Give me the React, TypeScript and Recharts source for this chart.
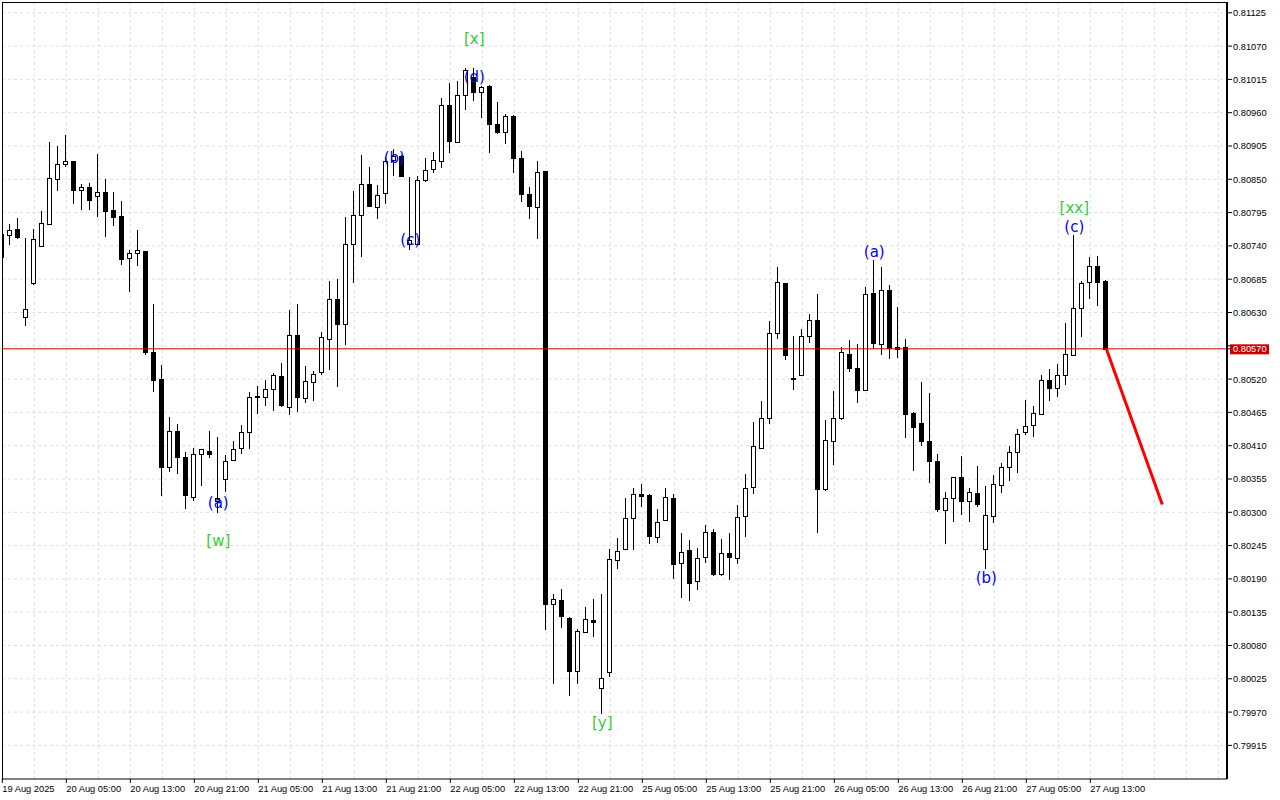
import React from 'react';
import { ComposedChart, Bar, Line, Scatter, XAxis, YAxis, CartesianGrid, ReferenceLine } from 'recharts';

// ---- hourly candles (H1), index 0 = 19 Aug 2025 21:00 ----
const opens = [
  0.80722, 0.80758, 0.80768, 0.80622, 0.80678, 0.80740, 0.80776, 0.80850, 0.80876, 0.80880,
  0.80832, 0.80838, 0.80823, 0.80829, 0.80800, 0.80789, 0.80720, 0.80728, 0.80731, 0.80564,
  0.80520, 0.80375, 0.80434, 0.80391, 0.80326, 0.80397, 0.80401, 0.80319, 0.80355, 0.80386,
  0.80406, 0.80433, 0.80492, 0.80490, 0.80503, 0.80525, 0.80474, 0.80592, 0.80489, 0.80516,
  0.80531, 0.80587, 0.80652, 0.80611, 0.80743, 0.80791, 0.80843, 0.80805, 0.80827, 0.80882,
  0.80889, 0.80743, 0.80743, 0.80849, 0.80867, 0.80880, 0.80973, 0.80911, 0.80989, 0.81019,
  0.80994, 0.81004, 0.80942, 0.80928, 0.80955, 0.80885, 0.80826, 0.80804, 0.80863, 0.80149,
  0.80155, 0.80126, 0.80038, 0.80103, 0.80122, 0.80009, 0.80037, 0.80221, 0.80239, 0.80290,
  0.80330, 0.80328, 0.80260, 0.80287, 0.80323, 0.80216, 0.80237, 0.80186, 0.80226, 0.80267,
  0.80198, 0.80232, 0.80224, 0.80294, 0.80341, 0.80407, 0.80455, 0.80596, 0.80678, 0.80522,
  0.80526, 0.80591, 0.80617, 0.80338, 0.80418, 0.80455, 0.80561, 0.80538, 0.80502, 0.80662,
  0.80578, 0.80667, 0.80573, 0.80573, 0.80464, 0.80447, 0.80417, 0.80384, 0.80304, 0.80323,
  0.80358, 0.80318, 0.80332, 0.80240, 0.80294, 0.80345, 0.80374, 0.80399, 0.80432, 0.80444,
  0.80462, 0.80518, 0.80505, 0.80526, 0.80559, 0.80638, 0.80681, 0.80707, 0.80682,
];
const highs = [
  0.80773, 0.80776, 0.80786, 0.80753, 0.80768, 0.80798, 0.80911, 0.80905, 0.80923, 0.80881,
  0.80842, 0.80844, 0.80892, 0.80850, 0.80829, 0.80814, 0.80733, 0.80766, 0.80732, 0.80644,
  0.80544, 0.80457, 0.80445, 0.80400, 0.80407, 0.80405, 0.80435, 0.80424, 0.80394, 0.80417,
  0.80444, 0.80498, 0.80509, 0.80519, 0.80530, 0.80546, 0.80634, 0.80644, 0.80542, 0.80533,
  0.80597, 0.80682, 0.80685, 0.80787, 0.80831, 0.80890, 0.80871, 0.80840, 0.80887, 0.80900,
  0.80890, 0.80853, 0.80856, 0.80885, 0.80895, 0.80985, 0.81009, 0.81012, 0.81034, 0.81034,
  0.81004, 0.81006, 0.80978, 0.80958, 0.80956, 0.80897, 0.80838, 0.80880, 0.80864, 0.80165,
  0.80173, 0.80127, 0.80107, 0.80144, 0.80157, 0.80165, 0.80239, 0.80258, 0.80323, 0.80340,
  0.80346, 0.80330, 0.80305, 0.80340, 0.80330, 0.80265, 0.80254, 0.80241, 0.80279, 0.80272,
  0.80256, 0.80265, 0.80312, 0.80363, 0.80449, 0.80484, 0.80616, 0.80705, 0.80679, 0.80591,
  0.80603, 0.80628, 0.80661, 0.80452, 0.80500, 0.80573, 0.80585, 0.80578, 0.80672, 0.80717,
  0.80705, 0.80675, 0.80639, 0.80587, 0.80465, 0.80515, 0.80497, 0.80396, 0.80333, 0.80358,
  0.80393, 0.80340, 0.80376, 0.80343, 0.80362, 0.80381, 0.80409, 0.80438, 0.80485, 0.80476,
  0.80527, 0.80537, 0.80545, 0.80613, 0.80758, 0.80682, 0.80721, 0.80723, 0.80684,
];
const lows = [
  0.80713, 0.80741, 0.80751, 0.80607, 0.80675, 0.80739, 0.80775, 0.80830, 0.80871, 0.80809,
  0.80800, 0.80800, 0.80788, 0.80755, 0.80773, 0.80709, 0.80664, 0.80706, 0.80559, 0.80498,
  0.80327, 0.80367, 0.80363, 0.80305, 0.80318, 0.80344, 0.80389, 0.80299, 0.80334, 0.80385,
  0.80397, 0.80405, 0.80462, 0.80476, 0.80467, 0.80474, 0.80460, 0.80466, 0.80480, 0.80484,
  0.80526, 0.80535, 0.80507, 0.80576, 0.80679, 0.80721, 0.80805, 0.80785, 0.80810, 0.80856,
  0.80855, 0.80734, 0.80742, 0.80846, 0.80860, 0.80869, 0.80894, 0.80910, 0.80965, 0.80980,
  0.80951, 0.80893, 0.80924, 0.80908, 0.80860, 0.80813, 0.80784, 0.80752, 0.80106, 0.80016,
  0.80109, 0.79997, 0.80017, 0.80100, 0.80094, 0.79967, 0.80028, 0.80206, 0.80238, 0.80238,
  0.80308, 0.80248, 0.80250, 0.80286, 0.80190, 0.80159, 0.80154, 0.80172, 0.80217, 0.80195,
  0.80194, 0.80188, 0.80215, 0.80259, 0.80330, 0.80406, 0.80446, 0.80587, 0.80552, 0.80502,
  0.80525, 0.80580, 0.80266, 0.80335, 0.80378, 0.80453, 0.80532, 0.80481, 0.80501, 0.80569,
  0.80560, 0.80554, 0.80555, 0.80422, 0.80369, 0.80410, 0.80349, 0.80301, 0.80248, 0.80284,
  0.80296, 0.80284, 0.80309, 0.80206, 0.80282, 0.80332, 0.80351, 0.80365, 0.80428, 0.80425,
  0.80461, 0.80484, 0.80490, 0.80511, 0.80558, 0.80590, 0.80653, 0.80640, 0.80570,
];
const closes = [
  0.80760, 0.80766, 0.80754, 0.80635, 0.80751, 0.80777, 0.80852, 0.80876, 0.80881, 0.80833,
  0.80838, 0.80816, 0.80829, 0.80798, 0.80787, 0.80719, 0.80728, 0.80733, 0.80564, 0.80519,
  0.80375, 0.80435, 0.80391, 0.80329, 0.80396, 0.80404, 0.80396, 0.80324, 0.80385, 0.80404,
  0.80433, 0.80490, 0.80490, 0.80503, 0.80527, 0.80478, 0.80592, 0.80490, 0.80517, 0.80528,
  0.80589, 0.80653, 0.80611, 0.80743, 0.80791, 0.80843, 0.80806, 0.80824, 0.80881, 0.80888,
  0.80856, 0.80749, 0.80848, 0.80865, 0.80882, 0.80973, 0.80913, 0.80989, 0.81030, 0.80994,
  0.81003, 0.80942, 0.80928, 0.80955, 0.80885, 0.80825, 0.80806, 0.80862, 0.80149, 0.80157,
  0.80128, 0.80038, 0.80104, 0.80123, 0.80119, 0.80026, 0.80223, 0.80236, 0.80290, 0.80330,
  0.80327, 0.80261, 0.80284, 0.80325, 0.80215, 0.80235, 0.80183, 0.80224, 0.80267, 0.80198,
  0.80232, 0.80226, 0.80293, 0.80340, 0.80409, 0.80455, 0.80596, 0.80680, 0.80559, 0.80520,
  0.80591, 0.80617, 0.80339, 0.80419, 0.80456, 0.80564, 0.80538, 0.80502, 0.80660, 0.80580,
  0.80667, 0.80572, 0.80569, 0.80463, 0.80441, 0.80417, 0.80384, 0.80305, 0.80324, 0.80358,
  0.80318, 0.80333, 0.80314, 0.80295, 0.80346, 0.80374, 0.80399, 0.80430, 0.80442, 0.80464,
  0.80518, 0.80506, 0.80526, 0.80561, 0.80638, 0.80679, 0.80707, 0.80681, 0.80570,
];

// ---- axis ticks ----
const xLabelIdx = [0, 8, 16, 24, 32, 40, 48, 56, 64, 72, 80, 88, 96, 104, 112, 120, 128, 136];
const xLabels = [
  '19 Aug 2025', '20 Aug 05:00', '20 Aug 13:00', '20 Aug 21:00', '21 Aug 05:00', '21 Aug 13:00',
  '21 Aug 21:00', '22 Aug 05:00', '22 Aug 13:00', '22 Aug 21:00', '25 Aug 05:00', '25 Aug 13:00',
  '25 Aug 21:00', '26 Aug 05:00', '26 Aug 13:00', '26 Aug 21:00', '27 Aug 05:00', '27 Aug 13:00',
];
const gridIdx = Array.from({ length: 38 }, (_, k) => (k + 1) * 4);
const yTicks = [
  0.81125, 0.8107, 0.81015, 0.8096, 0.80905, 0.8085, 0.80795, 0.8074, 0.80685, 0.8063, 0.80575,
  0.8052, 0.80465, 0.8041, 0.80355, 0.803, 0.80245, 0.8019, 0.80135, 0.8008, 0.80025, 0.7997, 0.79915,
];
const hiddenTick = 0.80575; // covered by the current-price tag
const lastPrice = 0.8057;

// ---- forecast line ----
const projIdx = [138, 145];
const projPrice = [0.8057, 0.80313];

// ---- wave labels ----
const labelText = ['[w]', '(a)', '(b)', '(c)', '(d)', '[x]', '[y]', '(a)', '(b)', '[xx]', '(c)'];
const labelIdx = [27, 27, 49, 51, 59, 59, 75, 109, 123, 134, 134];
const labelPrice = [0.80252, 0.80315, 0.80885, 0.8075, 0.81019, 0.81082, 0.79952, 0.8073, 0.80191, 0.80803, 0.80771];
const labelDegree = ['major', 'minor', 'minor', 'minor', 'minor', 'major', 'major', 'minor', 'minor', 'major', 'minor'];

const candles = opens.map((o, i) => ({
  idx: i,
  open: o,
  high: highs[i],
  low: lows[i],
  close: closes[i],
  range: [lows[i], highs[i]],
}));
const projection = projIdx.map((x, i) => ({ idx: x, proj: projPrice[i] }));
const waveLabels = labelText.map((t, i) => ({ idx: labelIdx[i], price: labelPrice[i], text: t, degree: labelDegree[i] }));

const GREEN = '#32cd32';
const BLUE = '#0000ff';
const AXIS_FONT = '"Liberation Sans", Arial, sans-serif';

const CandleShape = (props: any) => {
  const { x, y, width, height, payload } = props;
  if (x == null || y == null || !payload) return null;
  const top = Math.min(y, y + height);
  const bot = Math.max(y, y + height);
  const { open, close, high, low } = payload;
  const span = high - low || 1e-9;
  const toY = (p: number) => top + ((high - p) / span) * (bot - top);
  const cx = Math.floor(x + width / 2) + 0.5;
  const yo = toY(open);
  const yc = toY(close);
  const bull = close >= open;
  const bTop = Math.round(Math.min(yo, yc)) + 0.5;
  const bBot = Math.round(Math.max(yo, yc)) + 0.5;
  const wTop = Math.round(top);
  const wBot = Math.round(bot);
  return (
    <g>
      <line x1={cx} x2={cx} y1={wTop} y2={wBot} stroke="#000" strokeWidth={1} />
      {bBot - bTop < 1 ? (
        <line x1={cx - 2.5} x2={cx + 2.5} y1={bTop} y2={bTop} stroke="#000" strokeWidth={1} />
      ) : (
        <rect x={cx - 2} y={bTop} width={4} height={bBot - bTop} fill={bull ? '#fff' : '#000'} stroke="#000" strokeWidth={1} />
      )}
    </g>
  );
};

const LabelShape = (props: any) => {
  const { cx, cy, payload } = props;
  if (cx == null || cy == null || !payload) return null;
  return (
    <text
      x={cx}
      y={cy}
      textAnchor="middle"
      dominantBaseline="central"
      fontFamily='"DejaVu Sans", sans-serif'
      fontSize={15}
      fill={payload.degree === 'major' ? GREEN : BLUE}
    >
      {payload.text}
    </text>
  );
};

const XTick = (props: any) => {
  const { x, y, payload } = props;
  const k = xLabelIdx.indexOf(payload.value);
  if (k < 0) return null;
  return (
    <text x={x} y={y} dy={7} textAnchor="start" fontFamily={AXIS_FONT} fontSize={9.3} fill="#000">
      {xLabels[k]}
    </text>
  );
};

const YTick = (props: any) => {
  const { x, y, payload } = props;
  const v = payload.value as number;
  if (Math.abs(v - lastPrice) < 1e-7) {
    return (
      <g>
        <rect x={x - 3} y={y - 4.5} width={39} height={10} fill="#cc0000" />
        <text x={x} y={y} dy={3.5} textAnchor="start" fontFamily={AXIS_FONT} fontSize={9.3} fill="#fff">
          {v.toFixed(5)}
        </text>
      </g>
    );
  }
  if (Math.abs(v - hiddenTick) < 1e-7) return null;
  return (
    <text x={x} y={y} dy={3.5} textAnchor="start" fontFamily={AXIS_FONT} fontSize={9.3} fill="#000">
      {v.toFixed(5)}
    </text>
  );
};

export default function App() {
  return (
    <div style={{ position: 'absolute', left: 0, top: 0, width: 1280, height: 800, background: '#fff' }}>
      <ComposedChart width={1280} height={800} data={candles} margin={{ top: 2, right: 0, bottom: 0, left: 2 }}>
        <CartesianGrid
          stroke="#dedede"
          strokeDasharray="3 3"
          horizontalValues={yTicks}
          verticalValues={gridIdx}
        />
        <XAxis
          type="number"
          dataKey="idx"
          domain={[-0.0375, 153.09]}
          allowDataOverflow
          ticks={xLabelIdx}
          interval={0}
          height={21}
          tickSize={4}
          tickMargin={2}
          tickLine={{ stroke: '#000' }}
          axisLine={{ stroke: '#000', strokeWidth: 1 }}
          tick={<XTick />}
        />
        <YAxis
          orientation="right"
          type="number"
          domain={[0.798595, 0.811428]}
          allowDataOverflow
          ticks={[...yTicks, lastPrice]}
          interval={0}
          width={53}
          tickSize={5}
          tickMargin={1}
          tickLine={{ stroke: '#000' }}
          axisLine={{ stroke: '#000', strokeWidth: 2 }}
          tick={<YTick />}
        />
        <ReferenceLine y={lastPrice} stroke="#cc0000" strokeWidth={1} />
        <Scatter data={waveLabels} dataKey="price" shape={(p: any) => <LabelShape {...p} />} isAnimationActive={false} />
        <Bar dataKey="range" barSize={5} shape={(p: any) => <CandleShape {...p} />} isAnimationActive={false} />
        <Line
          data={projection}
          dataKey="proj"
          stroke="#ff0000"
          strokeWidth={3}
          dot={false}
          activeDot={false}
          isAnimationActive={false}
        />
      </ComposedChart>
      <div
        style={{
          position: 'absolute',
          left: 2,
          top: 2,
          width: 1226,
          height: 778,
          borderLeft: '1px solid #000',
          borderTop: '1px solid #000',
          boxSizing: 'border-box',
          pointerEvents: 'none',
        }}
      />
    </div>
  );
}
